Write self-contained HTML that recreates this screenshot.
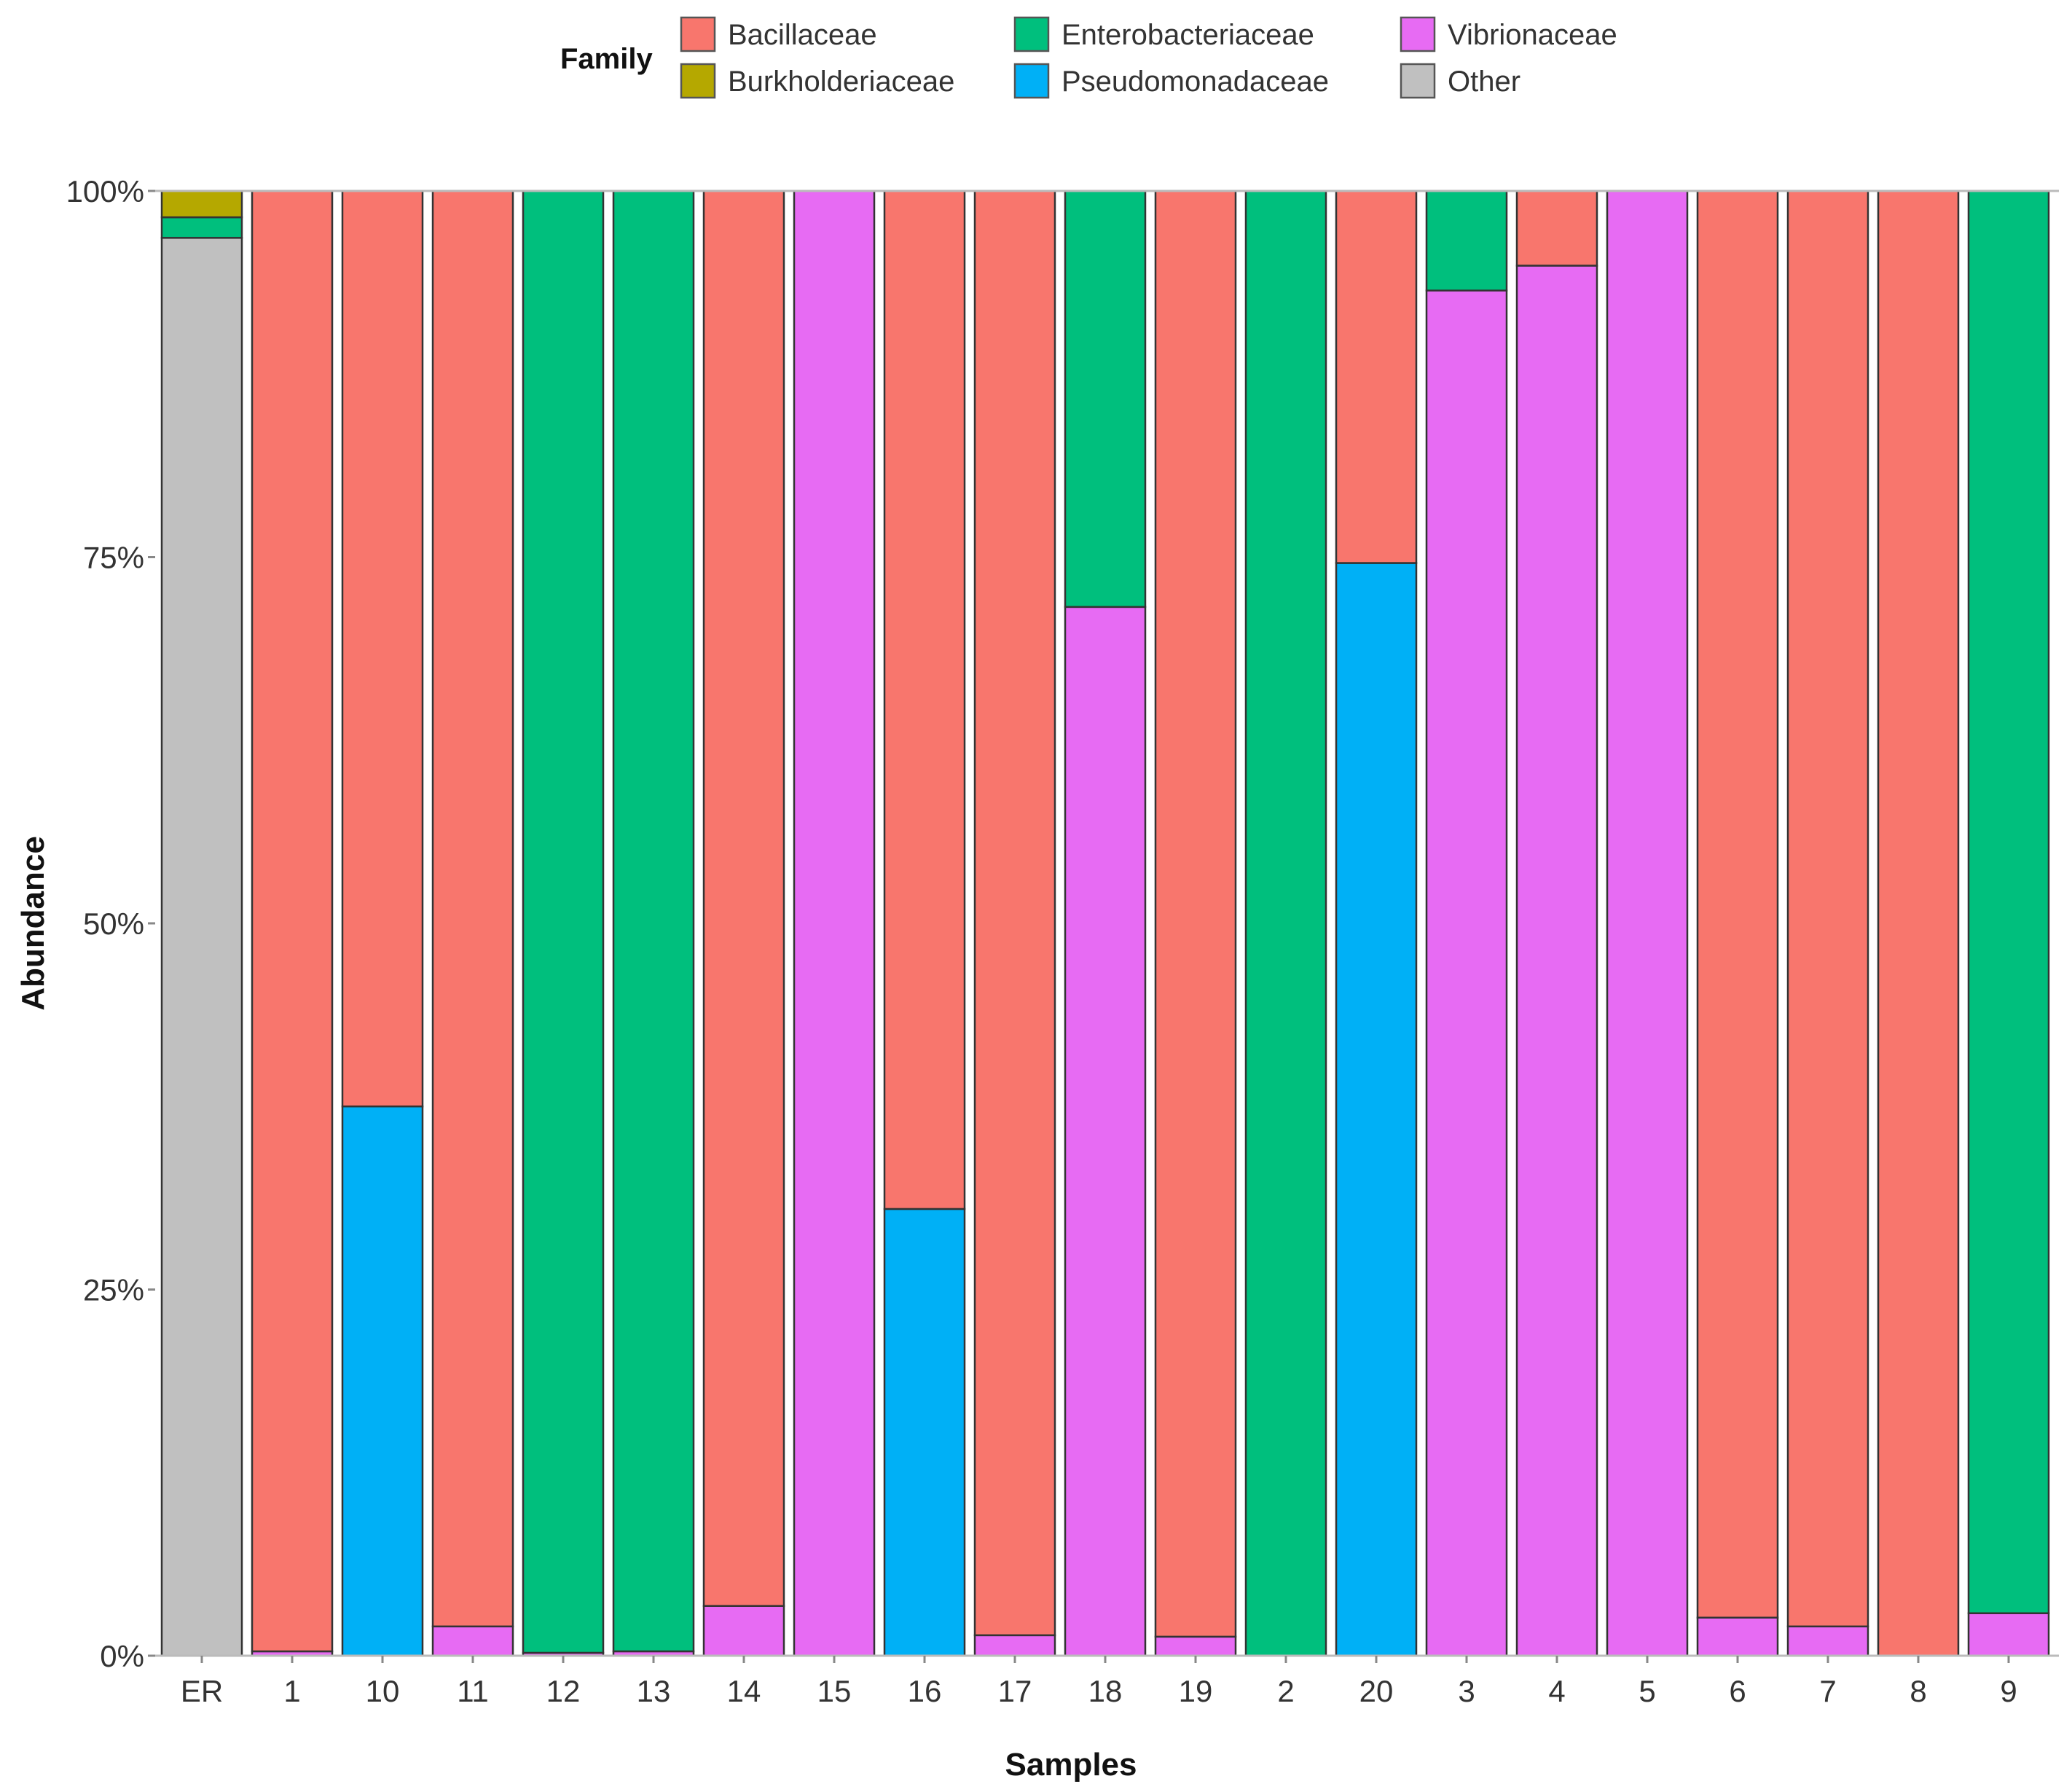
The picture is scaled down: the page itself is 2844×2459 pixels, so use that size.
<!DOCTYPE html>
<html><head><meta charset="utf-8"><style>
html,body{margin:0;padding:0;background:#fff;}
svg{display:block;font-family:"Liberation Sans",sans-serif;}
</style></head><body>
<svg id="chart" width="2844" height="2459" viewBox="0 0 2844 2459" xmlns="http://www.w3.org/2000/svg">
<rect width="2844" height="2459" fill="#fff"/>
<g id="legend">
<text x="769" y="94" font-size="40" font-weight="bold" fill="#111">Family</text>
</g>
<g id="plot"></g>
<g id="axes"></g>
<text transform="translate(60,1267) rotate(-90)" text-anchor="middle" font-size="44" font-weight="bold" fill="#111">Abundance</text>
<text x="1470" y="2436" text-anchor="middle" font-size="44" font-weight="bold" fill="#111">Samples</text>
</svg>
<script>
const samples = ["ER","1","10","11","12","13","14","15","16","17","18","19","2","20","3","4","5","6","7","8","9"];
const families = ["Bacillaceae","Burkholderiaceae","Enterobacteriaceae","Pseudomonadaceae","Vibrionaceae","Other"];
const colors = ["#F8766D","#B5A800","#00BF7D","#00B0F6","#E76BF3","#C0C0C0"];
const bacillaceae      = [0,   99.7,62.5,98,  0,   0,   96.6,0,  69.5,98.6,0,   98.7,0,  25.4,0,   5.1,0,  97.4,98,100,0];
const burkholderiaceae = [1.8, 0,   0,   0,   0,   0,   0,   0,  0,   0,   0,   0,   0,  0,   0,   0,  0,  0,   0, 0,  0];
const enterobacteriaceae=[1.4, 0,   0,   0,   99.8,99.7,0,   0,  0,   0,   28.4,0,   100,0,   6.8, 0,  0,  0,   0, 0,  97.1];
const pseudomonadaceae = [0,   0,   37.5,0,   0,   0,   0,   0,  30.5,0,   0,   0,   0,  74.6,0,   0,  0,  0,   0, 0,  0];
const vibrionaceae     = [0,   0.3, 0,   2,   0.2, 0.3, 3.4, 100,0,   1.4, 71.6,1.3, 0,  0,   93.2,94.9,100,2.6,2, 0,  2.9];
const other            = [96.8,0,   0,   0,   0,   0,   0,   0,  0,   0,   0,   0,   0,  0,   0,   0,  0,  0,   0, 0,  0];
const yTicks = [0,25,50,75,100];
const yTickLabels = ["0%","25%","50%","75%","100%"];

const series=[bacillaceae,burkholderiaceae,enterobacteriaceae,pseudomonadaceae,vibrionaceae,other];
const NS="http://www.w3.org/2000/svg";
const plotTop=262,plotBottom=2272,firstC=277,pitch=124,bw=110;
const yScale=v=>plotBottom-(v/100)*(plotBottom-plotTop);
const xScale=i=>firstC+i*pitch;
function mk(t,a,p){const e=document.createElementNS(NS,t);for(const k in a)e.setAttribute(k,a[k]);p.appendChild(e);return e;}
const plotG=document.getElementById('plot'),axesG=document.getElementById('axes'),legG=document.getElementById('legend');
mk('line',{x1:213,x2:2826,y1:plotTop,y2:plotTop,stroke:'#bbb','stroke-width':3},axesG);
mk('line',{x1:213,x2:2826,y1:plotBottom,y2:plotBottom,stroke:'#bbb','stroke-width':3},axesG);
samples.forEach((s,i)=>{
  let cum=0;
  for(let f=series.length-1;f>=0;f--){
    const v=series[f][i]; if(!v) continue;
    const r=mk('rect',{x:xScale(i)-bw/2,y:yScale(cum+v),width:bw,height:yScale(cum)-yScale(cum+v),fill:colors[f],stroke:'#333','stroke-width':2.5},plotG);
    
    
    cum+=v;
  }
  const tk=mk('line',{x1:xScale(i),x2:xScale(i),y1:plotBottom,y2:plotBottom+10,stroke:'#888','stroke-width':3},axesG);
  
  
  const t=mk('text',{x:xScale(i),y:2335,'text-anchor':'middle','font-size':42,fill:'#333'},axesG);
  t.textContent=s;
  
  
});
yTicks.forEach((v,k)=>{
  const tk=mk('line',{x1:203,x2:213,y1:yScale(v),y2:yScale(v),stroke:'#888','stroke-width':3},axesG);
  
  
  const t=mk('text',{x:198,y:yScale(v)+15,'text-anchor':'end','font-size':42,fill:'#333'},axesG);
  t.textContent=yTickLabels[k];
  
  
});
const legOrder=[[0,935,24],[1,935,88],[2,1393,24],[3,1393,88],[4,1923,24],[5,1923,88]];
legOrder.forEach(([f,lx,ly])=>{
  const r=mk('rect',{x:lx,y:ly,width:46,height:46,fill:colors[f],stroke:'#555','stroke-width':2.5},legG);
  
  
  const t=mk('text',{x:lx+64,y:ly+37,'font-size':40,fill:'#333'},legG);
  t.textContent=families[f];
  
  
});
</script>
</body></html>
